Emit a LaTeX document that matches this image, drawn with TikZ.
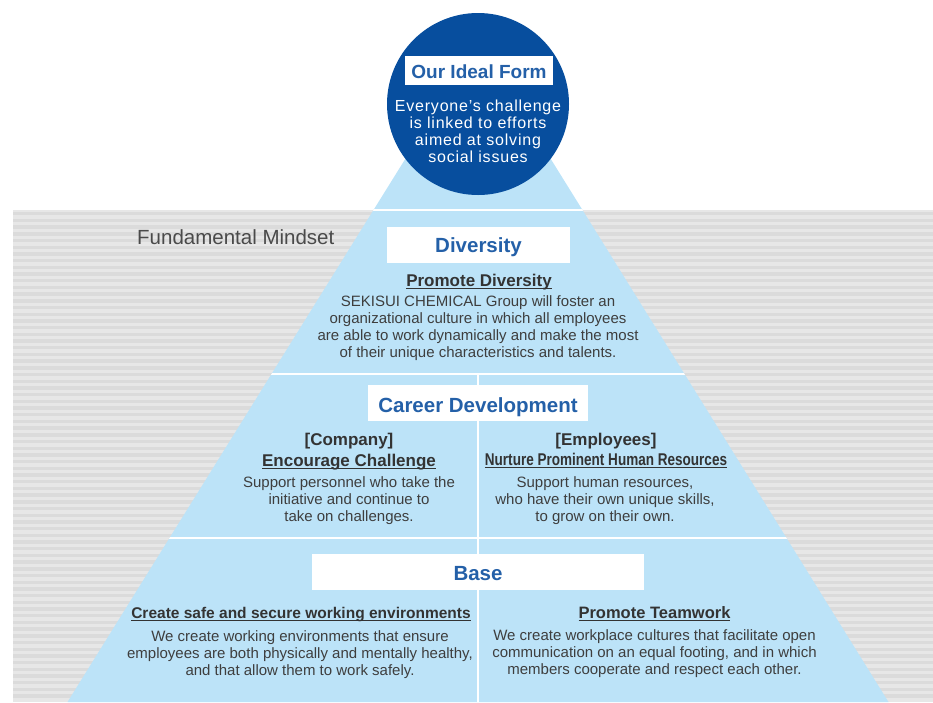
\documentclass[tikz,border=0pt]{standalone}
\usepackage{fontspec}
\usepackage{graphicx}
\setmainfont{Liberation Sans}
\newfontfamily\circfont{Liberation Sans}[LetterSpace=5]
\definecolor{bandlight}{HTML}{E7E7E7}
\definecolor{banddark}{HTML}{DBDBDB}
\definecolor{pyrblue}{HTML}{BCE3F8}
\definecolor{circblue}{HTML}{074E9E}
\definecolor{headblue}{HTML}{2460A8}
\definecolor{bodygray}{HTML}{3E3E3E}
\definecolor{subgray}{HTML}{333333}
\definecolor{mindgray}{HTML}{4A4A4A}
\newcommand\myul[1]{\setbox0\hbox{#1}\rlap{\rule[-2.6pt]{\wd0}{1.1pt}}\box0}
\tikzset{
  labelbox/.style={fill=white, inner sep=0pt},
  headtext/.style={font=\bfseries\fontsize{20.5}{24}\selectfont, text=headblue, inner sep=0pt, anchor=base},
  subtext/.style={font=\bfseries\fontsize{17}{20}\selectfont, text=subgray, inner sep=0pt, anchor=base},
  bodytext/.style={font=\fontsize{15}{17.3}\selectfont, text=bodygray, align=center, inner sep=0pt},
  divider/.style={draw=white, line width=2.2pt}
}
\begin{document}
\begin{tikzpicture}[x=1pt,y=-1pt]
\useasboundingbox (0,0) rectangle (933,702);
% striped background band
\fill[bandlight] (13,210) rectangle (933,702);
\foreach \k in {0,...,72} {
  \fill[banddark] (13,{212+\k*6.7}) rectangle (933,{215.4+\k*6.7});
}
% pyramid
\coordinate (apex) at (478,42);
\coordinate (bl) at (67.5,702);
\coordinate (br) at (888.5,702);
\fill[pyrblue] (apex) -- (br) -- (bl) -- cycle;
\begin{scope}
  \clip (apex) -- (br) -- (bl) -- cycle;
  \draw[divider] (0,210) -- (933,210);
  \draw[divider] (0,374) -- (933,374);
  \draw[divider] (0,538) -- (933,538);
  \draw[divider] (478,374) -- (478,702);
\end{scope}
% label
\node[anchor=base west, inner sep=0pt, text=mindgray, font=\fontsize{20.5}{22}\selectfont] (mind) at (137,244) {Fundamental Mindset};
% top circle
\node[circle, fill=circblue, minimum size=182pt, inner sep=0pt] (ideal) at (478,104) {};
\node[labelbox, minimum width=148pt, minimum height=29pt] (idealbox) at (479,70.5) {};
\node[headtext, font=\bfseries\fontsize{19}{22}\selectfont] (idealtitle) at (479,78) {Our Ideal Form};
\node[bodytext, text=white, font=\circfont\fontsize{16}{17}\selectfont] (idealtext) at (478,131) {Everyone’s challenge\\is linked to efforts\\aimed at solving\\social issues};
% Diversity
\node[labelbox, minimum width=183pt, minimum height=36pt] (divbox) at (478.5,245) {};
\node[headtext] (divtitle) at (478.5,252.7) {Diversity};
\node[subtext] (divsub) at (479,286) {\myul{Promote Diversity}};
\node[bodytext, font=\fontsize{15}{17}\selectfont] (divtext) at (478,327.7) {SEKISUI CHEMICAL Group will foster an\\organizational culture in which all employees\\are able to work dynamically and make the most\\of their unique characteristics and talents.};
% Career development
\node[labelbox, minimum width=220pt, minimum height=36pt] (carbox) at (478,403) {};
\node[headtext] (cartitle) at (478,412.7) {Career Development};
\node[subtext] (company) at (349,445) {[Company]};
\node[subtext] (comphead) at (349,466) {\myul{Encourage Challenge}};
\node[bodytext] (comptext) at (349,500.7) {Support personnel who take the\\initiative and continue to\\take on challenges.};
\node[subtext] (employees) at (606,445) {[Employees]};
\node[subtext] (emphead) at (606,465) {\scalebox{0.796}[1]{\myul{Nurture Prominent Human Resources}}};
\node[bodytext] (emptext) at (605,500.7) {Support human resources,\\who have their own unique skills,\\to grow on their own.};
% Base
\node[labelbox, minimum width=332pt, minimum height=36pt] (basebox) at (478,572) {};
\node[headtext] (basetitle) at (478,580) {Base};
\node[subtext, font=\bfseries\fontsize{15.5}{20}\selectfont] (safehead) at (301,618) {\myul{Create safe and secure working environments}};
\node[bodytext] (safetext) at (300,654.7) {We create working environments that ensure\\employees are both physically and mentally healthy,\\and that allow them to work safely.};
\node[subtext, font=\bfseries\fontsize{16.5}{20}\selectfont] (teamhead) at (654.5,618) {\myul{Promote Teamwork}};
\node[bodytext] (teamtext) at (654.5,653.7) {We create workplace cultures that facilitate open\\communication on an equal footing, and in which\\members cooperate and respect each other.};
\end{tikzpicture}
\end{document}
